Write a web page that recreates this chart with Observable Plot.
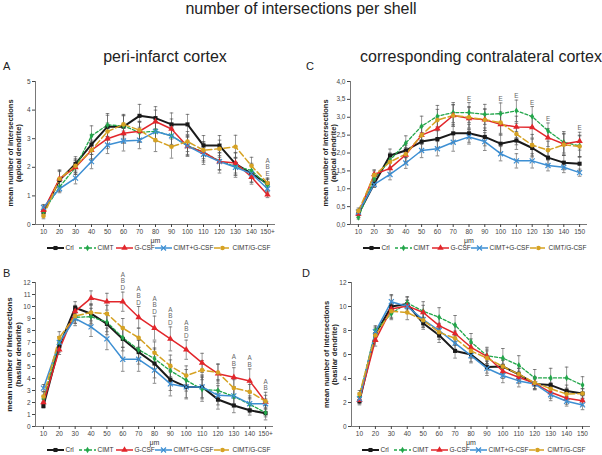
<!DOCTYPE html>
<html><head><meta charset="utf-8">
<script src="https://cdn.jsdelivr.net/npm/d3@7"></script>
<script src="https://cdn.jsdelivr.net/npm/@observablehq/plot@0.6"></script>
<style>
body{margin:0;background:#fff;font-family:"Liberation Sans",Arial,sans-serif;}
#fig{position:relative;width:602px;height:455px;overflow:hidden;background:#fff;}
.abs{position:absolute;}
.title{font-size:16px;color:#222;white-space:nowrap;transform:translateX(-50%);line-height:1;}
.letter{font-size:11px;color:#222;line-height:1;}
</style></head><body><div id="fig"></div><script>
// ---------- categories / ticks ----------
const shells = [10,20,30,40,50,60,70,80,90,100,110,120,130,140,150];
const xLabelsInfarct = ["10","20","30","40","50","60","70","80","90","100","110","120","130","140","150+"];
const xLabelsContra  = ["10","20","30","40","50","60","70","80","90","100","110","120","130","140","150"];
const groups = ["Crl","CIMT","G-CSF","CIMT+G-CSF","CIMT/G-CSF"];
const groupColors = ["#1a1a1a","#22a64a","#e2262b","#3d8fd3","#d6a223"];

// ---------- A: peri-infarct, apical ----------
const A_crl  = [0.44,1.55,2.12,2.80,3.42,3.42,3.80,3.72,3.50,3.50,2.76,2.76,2.12,1.78,1.43];
const A_cimt = [0.45,1.31,2.00,3.10,3.48,3.45,3.22,3.26,3.10,2.76,2.53,2.22,2.03,1.89,1.37];
const A_gcsf = [0.50,1.60,2.00,2.60,3.00,3.19,3.26,3.60,3.34,2.73,2.53,2.20,2.15,1.66,1.04];
const A_comb = [0.60,1.25,1.62,2.20,2.78,2.92,2.95,3.25,3.10,2.75,2.45,2.20,2.00,1.78,1.25];
const A_seq  = [0.30,1.60,2.05,2.60,3.25,3.50,3.30,2.95,2.72,2.90,2.60,2.65,2.72,2.05,1.45];
const A_crl_sd  = [0.10,0.30,0.25,0.35,0.40,0.40,0.40,0.40,0.40,0.35,0.35,0.35,0.40,0.30,0.20];
const A_cimt_sd = [0.15,0.20,0.25,0.35,0.40,0.35,0.35,0.35,0.35,0.35,0.30,0.30,0.30,0.25,0.20];
const A_gcsf_sd = [0.15,0.30,0.25,0.30,0.35,0.35,0.35,0.40,0.35,0.35,0.35,0.30,0.35,0.25,0.10];
const A_comb_sd = [0.10,0.10,0.20,0.25,0.30,0.35,0.30,0.35,0.30,0.30,0.35,0.40,0.35,0.30,0.15];
const A_seq_sd  = [0.10,0.30,0.25,0.35,0.30,0.35,0.30,0.40,0.40,0.35,0.30,0.30,0.40,0.30,0.15];
const A_annotShells = [150];
const A_annotText = ["A\nB\nE"];

// ---------- B: peri-infarct, basilar ----------
const B_crl  = [1.70,6.70,9.90,9.40,8.55,7.30,6.20,5.25,3.90,3.30,3.30,2.25,1.75,1.35,1.10];
const B_cimt = [2.30,7.00,9.10,9.15,8.70,7.40,6.40,5.65,4.65,3.85,3.10,3.00,2.50,1.85,1.15];
const B_gcsf = [2.00,6.40,9.60,10.70,10.40,10.40,9.10,8.20,7.30,6.40,5.30,4.40,4.10,3.80,2.05];
const B_comb = [3.20,7.00,9.00,8.30,7.30,5.60,5.60,4.70,3.55,3.30,3.30,2.60,2.55,1.90,1.90];
const B_seq  = [2.50,7.40,9.20,9.50,9.40,8.20,7.40,6.15,5.05,4.25,4.70,4.50,3.20,2.90,2.10];
const B_crl_sd  = [0.15,0.50,0.50,0.80,0.90,1.00,1.00,1.20,0.90,0.90,0.90,0.80,0.60,0.40,0.30];
const B_cimt_sd = [0.30,0.50,0.50,0.70,0.80,0.80,0.80,0.90,0.90,0.90,1.00,0.90,0.80,0.70,0.60];
const B_gcsf_sd = [0.30,0.40,0.50,0.60,0.70,0.80,0.90,1.00,1.00,0.80,0.80,0.80,0.80,1.00,0.80];
const B_comb_sd = [0.30,0.50,0.60,0.80,0.90,1.00,1.00,1.10,1.00,1.00,1.00,0.80,0.70,0.50,0.40];
const B_seq_sd  = [0.40,0.50,0.60,0.70,0.70,0.80,0.80,0.90,0.90,0.80,0.80,0.70,0.70,0.60,0.50];
const B_annotShells = [60,70,80,90,100,130,140,150];
const B_annotText = ["A\nB\nD","A\nB\nD","A\nB\nD","A\nB\nD","A\nB\nD","A\nB","A\nB","A\nB"];

// ---------- C: contralateral, apical ----------
const C_crl  = [0.30,1.14,1.93,2.07,2.32,2.39,2.55,2.55,2.45,2.26,2.35,2.14,1.87,1.73,1.70];
const C_cimt = [0.20,1.28,1.80,2.28,2.75,3.03,3.13,3.13,3.08,3.10,3.18,3.02,2.62,2.30,2.20];
const C_gcsf = [0.30,1.40,1.57,1.95,2.50,2.68,3.05,2.97,2.93,2.80,2.73,2.72,2.43,2.25,2.33];
const C_comb = [0.35,1.12,1.40,1.72,2.07,2.12,2.30,2.45,2.32,1.98,1.78,1.78,1.65,1.60,1.45];
const C_seq  = [0.38,1.38,1.75,1.97,2.50,2.92,3.05,3.00,2.93,2.85,2.53,2.22,2.08,2.23,2.18];
const C_crl_sd  = [0.10,0.10,0.18,0.20,0.25,0.25,0.25,0.25,0.25,0.25,0.25,0.25,0.20,0.20,0.20];
const C_cimt_sd = [0.05,0.15,0.20,0.20,0.28,0.30,0.28,0.28,0.28,0.30,0.30,0.28,0.22,0.30,0.30];
const C_gcsf_sd = [0.10,0.10,0.15,0.20,0.25,0.30,0.30,0.30,0.30,0.30,0.30,0.30,0.25,0.30,0.25];
const C_comb_sd = [0.05,0.08,0.15,0.15,0.20,0.20,0.25,0.20,0.25,0.20,0.20,0.20,0.15,0.15,0.10];
const C_seq_sd  = [0.08,0.15,0.20,0.25,0.25,0.30,0.30,0.30,0.30,0.30,0.30,0.30,0.25,0.30,0.30];
const C_annotShells = [80,100,110,120,130,150];
const C_annotText = ["E","E","E","E","E","E"];

// ---------- D: contralateral, basilar ----------
const D_crl  = [2.10,7.70,10.00,10.20,8.60,7.60,6.30,6.00,4.95,5.00,4.35,3.55,3.45,2.95,2.75];
const D_cimt = [2.50,8.00,9.40,10.30,9.60,9.10,8.45,7.05,5.90,5.70,5.10,4.05,4.05,4.05,3.45];
const D_gcsf = [2.20,7.20,9.80,10.05,9.50,8.40,7.75,6.60,5.85,4.60,4.10,3.60,2.85,2.35,2.15];
const D_comb = [2.30,7.90,10.40,10.00,8.90,8.00,6.95,5.90,4.85,4.25,3.80,3.55,2.65,2.10,1.80];
const D_seq  = [2.70,7.60,9.60,9.50,8.85,7.85,7.35,6.30,5.70,5.00,4.35,3.65,3.15,2.70,2.75];
const D_crl_sd  = [0.30,0.50,1.00,0.60,0.50,0.60,0.60,0.60,0.50,0.50,0.50,0.40,0.50,0.50,0.40];
const D_cimt_sd = [0.30,0.40,0.50,0.50,0.80,0.80,0.80,0.70,0.70,0.80,0.80,0.70,0.80,0.90,0.70];
const D_gcsf_sd = [0.30,0.50,0.40,0.50,0.60,0.70,0.70,0.70,0.60,0.60,0.50,0.50,0.50,0.50,0.40];
const D_comb_sd = [0.30,0.40,0.50,0.50,0.60,0.60,0.60,0.60,0.60,0.60,0.50,0.50,0.50,0.40,0.40];
const D_seq_sd  = [0.30,0.40,0.50,0.60,0.60,0.60,0.60,0.60,0.60,0.60,0.50,0.50,0.50,0.50,0.40];

// ---------- y ticks ----------
const A_yTicks = [0,1,2,3,4,5];
const A_yLabels = ["0","1","2","3","4","5"];
const B_yTicks = [0,1,2,3,4,5,6,7,8,9,10,11,12];
const B_yLabels = ["0","1","2","3","4","5","6","7","8","9","10","11","12"];
const C_yTicks = [0,0.5,1,1.5,2,2.5,3,3.5,4];
const C_yLabels = ["0,0","0,5","1,0","1,5","2,0","2,5","3,0","3,5","4,0"];
const D_yTicks = [0,2,4,6,8,10,12];
const D_yLabels = ["0","2","4","6","8","10","12"];

// ---------- texts ----------
const mainTitle = "number of intersections per shell";
const leftTitle = "peri-infarct cortex";
const rightTitle = "corresponding contralateral cortex";
const yLabelApical = "mean number of intersections\n(apical dendrite)";
const yLabelBasilar = "mean number of intersections\n(basilar dendrite)";
const xLabel = "μm";

// ---------- styles ----------
const dashes = [null, "3,2", null, null, "6,3"];
const widths = [2, 1.3, 1.5, 1.5, 1.5];
const symbols = ["square","diamond","triangle","times","circle"];
const d3symbols = [d3.symbolSquare, d3.symbolDiamond, d3.symbolTriangle, d3.symbolTimes, d3.symbolCircle];
const radii = [2.3, 2.0, 2.4, 2.4, 2.3];
const capSymbol = {draw(ctx, size){ const w = Math.sqrt(size/Math.PI); ctx.moveTo(-w,0); ctx.lineTo(w,0); }};

const fig = document.getElementById("fig");

function panel(o){
  const rows = [];
  o.vals.forEach((arr, gi) => arr.forEach((v, i) => rows.push({g: groups[gi], gi, x: shells[i], v, e: o.sds[gi][i]})));
  const marks = [
    Plot.ruleY([o.yDomain[0]], {stroke: "#555", strokeWidth: 0.8}),
    Plot.ruleX([5], {stroke: "#555", strokeWidth: 0.8}),
    Plot.axisX({ticks: shells, tickFormat: d => o.xLabels[shells.indexOf(d)], tickSize: 3, tickPadding: 2, label: null}),
    Plot.axisY({ticks: o.yTicks, tickFormat: d => o.yLabels[o.yTicks.indexOf(d)], tickSize: 3, tickPadding: 2, label: null})
  ];
  groups.forEach((g, gi) => {
    marks.push(Plot.line(rows.filter(r => r.gi === gi), {x: "x", y: "v", stroke: groupColors[gi], strokeWidth: widths[gi], strokeDasharray: dashes[gi] || undefined}));
  });
  marks.push(Plot.ruleX(rows, {x: "x", y1: d => d.v - d.e, y2: d => d.v + d.e, stroke: "#555", strokeWidth: 0.7, strokeOpacity: 0.85}));
  marks.push(Plot.dot(rows, {x: "x", y: d => d.v + d.e, symbol: capSymbol, r: 1.8, stroke: "#555", strokeWidth: 0.7, fill: "none"}));
  marks.push(Plot.dot(rows, {x: "x", y: d => d.v - d.e, symbol: capSymbol, r: 1.8, stroke: "#555", strokeWidth: 0.7, fill: "none"}));
  groups.forEach((g, gi) => {
    const sub = rows.filter(r => r.gi === gi);
    if (symbols[gi] === "times") marks.push(Plot.dot(sub, {x: "x", y: "v", symbol: "times", r: radii[gi], stroke: groupColors[gi], strokeWidth: 1.2}));
    else marks.push(Plot.dot(sub, {x: "x", y: "v", symbol: symbols[gi], r: radii[gi], fill: groupColors[gi], stroke: "none"}));
  });
  if (o.annotShells) {
    const ann = o.annotShells.map((s, k) => {
      const i = shells.indexOf(s);
      const top = d3.max(o.vals.map((arr, gi) => arr[i] + o.sds[gi][i]));
      return {x: s, y: top, t: o.annotText[k]};
    });
    marks.push(Plot.text(ann, {x: "x", y: "y", text: "t", lineAnchor: "bottom", dy: -2, fontSize: 6.3, lineHeight: 1.05, fill: "#666"}));
  }
  marks.push(Plot.text([o.yLabel], {frameAnchor: "left", textAnchor: "middle", lineAnchor: "middle", dx: -21.5, rotate: -90, fontSize: o.yLabelSize || 7.5, fontWeight: "bold", lineHeight: 1.1, fill: "#222"}));
  marks.push(Plot.text([xLabel], {frameAnchor: "bottom", lineAnchor: "middle", dy: 16, fontSize: 7, fill: "#333"}));
  const svg = Plot.plot({
    width: o.width, height: o.height,
    marginTop: o.mt, marginBottom: o.mb, marginLeft: o.ml, marginRight: o.mr,
    x: {type: "linear", domain: [5, 155]},
    y: {type: "linear", domain: o.yDomain},
    style: {fontSize: "6.5px", color: "#444", fontFamily: "'Liberation Sans', Arial, sans-serif", background: "transparent", overflow: "visible"},
    marks
  });
  svg.style.position = "absolute";
  svg.style.left = o.left + "px";
  svg.style.top = o.top + "px";
  fig.appendChild(svg);
}

function legend(left, cy){
  const offsets = [0, 32, 69, 108, 167];
  const svg = d3.create("svg").attr("width", 240).attr("height", 10)
    .style("position", "absolute").style("left", left + "px").style("top", (cy - 5) + "px").style("overflow", "visible");
  groups.forEach((g, gi) => {
    const x0 = offsets[gi];
    svg.append("line").attr("x1", x0).attr("x2", x0 + 17).attr("y1", 5).attr("y2", 5)
      .attr("stroke", groupColors[gi]).attr("stroke-width", widths[gi]).attr("stroke-dasharray", dashes[gi]);
    const sz = Math.PI * radii[gi] * radii[gi];
    const p = svg.append("path").attr("d", d3.symbol(d3symbols[gi], sz)()).attr("transform", `translate(${x0 + 8.5},5)`);
    if (symbols[gi] === "times") p.attr("fill", "none").attr("stroke", groupColors[gi]).attr("stroke-width", 1.2);
    else p.attr("fill", groupColors[gi]);
    svg.append("text").attr("x", x0 + 18.5).attr("y", 5).attr("dy", "0.35em").attr("font-size", 6.5)
      .attr("font-family", "'Liberation Sans', Arial, sans-serif").attr("fill", "#333").text(g);
  });
  fig.appendChild(svg.node());
}

function addText(txt, cls, left, top){
  const d = document.createElement("div");
  d.className = "abs " + cls;
  d.style.left = left + "px"; d.style.top = top + "px";
  d.textContent = txt;
  fig.appendChild(d);
}

addText(mainTitle, "title", 301, 1);
addText(leftTitle, "title", 165, 49);
addText(rightTitle, "title", 481, 49);
addText("A", "letter", 3, 61);
addText("B", "letter", 3, 268);
addText("C", "letter", 306, 61);
addText("D", "letter", 302, 268);

panel({vals: [A_crl, A_cimt, A_gcsf, A_comb, A_seq], sds: [A_crl_sd, A_cimt_sd, A_gcsf_sd, A_comb_sd, A_seq_sd],
  xLabels: xLabelsInfarct, yDomain: [0, 5], yTicks: A_yTicks, yLabels: A_yLabels, yLabel: yLabelApical,
  annotShells: A_annotShells, annotText: A_annotText,
  left: 0, top: 70, width: 300, height: 175, mt: 11, mb: 21, ml: 35, mr: 25});
panel({vals: [B_crl, B_cimt, B_gcsf, B_comb, B_seq], sds: [B_crl_sd, B_cimt_sd, B_gcsf_sd, B_comb_sd, B_seq_sd],
  xLabels: xLabelsInfarct, yDomain: [0, 12], yTicks: B_yTicks, yLabels: B_yLabels, yLabel: yLabelBasilar, yLabelSize: 8,
  annotShells: B_annotShells, annotText: B_annotText,
  left: 0, top: 270, width: 300, height: 178, mt: 12, mb: 22, ml: 35, mr: 27});
panel({vals: [C_crl, C_cimt, C_gcsf, C_comb, C_seq], sds: [C_crl_sd, C_cimt_sd, C_gcsf_sd, C_comb_sd, C_seq_sd],
  xLabels: xLabelsContra, yDomain: [0, 4], yTicks: C_yTicks, yLabels: C_yLabels, yLabel: yLabelApical,
  annotShells: C_annotShells, annotText: C_annotText,
  left: 300, top: 70, width: 302, height: 175, mt: 11, mb: 21, ml: 50, mr: 15});
panel({vals: [D_crl, D_cimt, D_gcsf, D_comb, D_seq], sds: [D_crl_sd, D_cimt_sd, D_gcsf_sd, D_comb_sd, D_seq_sd],
  xLabels: xLabelsContra, yDomain: [0, 12], yTicks: D_yTicks, yLabels: D_yLabels, yLabel: yLabelBasilar,
  left: 300, top: 270, width: 302, height: 178, mt: 12, mb: 22, ml: 51, mr: 12});

legend(47, 248);
legend(47, 450);
legend(363, 248);
legend(362, 450);
</script></body></html>
